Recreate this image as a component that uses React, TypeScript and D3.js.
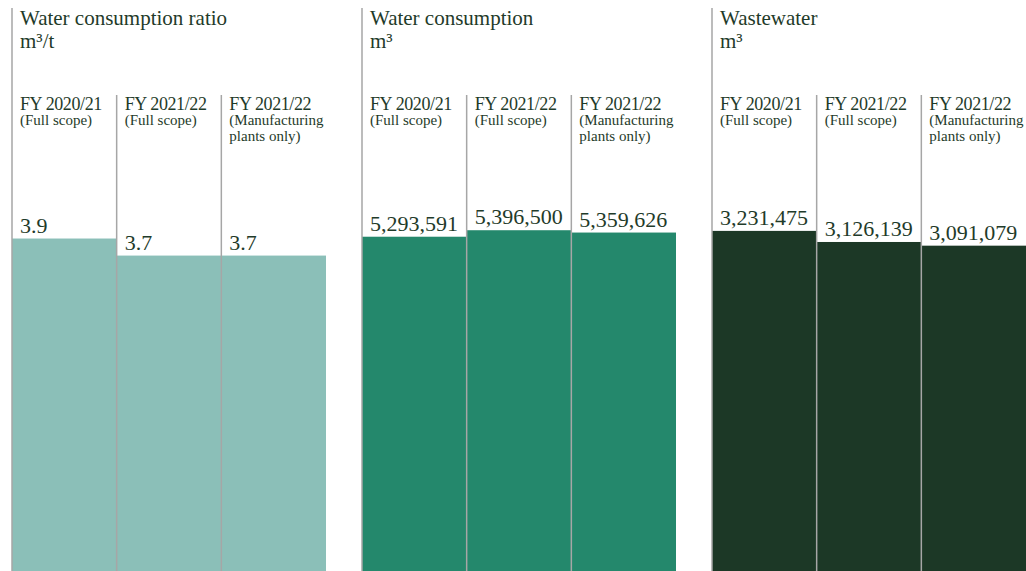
import React from "react";
import * as d3 from "d3";

const categories = ["FY 2020/21", "FY 2021/22", "FY 2021/22"];
const categoryNotes = [["(Full scope)"], ["(Full scope)"], ["(Manufacturing", "plants only)"]];

const panelTitles = ["Water consumption ratio", "Water consumption", "Wastewater"];
const panelUnits = ["m³/t", "m³", "m³"];

const ratioValues = [3.9, 3.7, 3.7];
const consumptionValues = [5293591, 5396500, 5359626];
const wastewaterValues = [3231475, 3126139, 3091079];

const panelValues = [ratioValues, consumptionValues, wastewaterValues];
const panelDomainMax = [4, 5400000, 3240000];
const panelColors = ["#8bbfb8", "#24886c", "#1c3826"];
const panelFormats = [d3.format(".1f"), d3.format(","), d3.format(",")];

const W = 1026;
const H = 571;
const TEXT = "#1f3b2a";
const LINE = "#a6a6a6";
const FONT = "'Liberation Serif', 'Times New Roman', serif";

export default function App() {
  const panelX = d3.scaleLinear().domain([0, 1]).range([12, 362]);
  const panelW = 314;
  return (
    <svg
      width={W}
      height={H}
      style={{ position: "absolute", left: 0, top: 0, display: "block", background: "#fff" }}
      fontFamily={FONT}
    >
      {panelValues.map((vals, p) => {
        const x0 = panelX(p);
        const x = d3.scaleBand<number>().domain([0, 1, 2]).range([x0, x0 + panelW]).padding(0);
        const y = d3.scaleLinear().domain([0, panelDomainMax[p]]).range([H, 230]);
        return (
          <g key={p}>
            {vals.map((v, i) => (
              <rect
                key={"b" + i}
                x={x(i)}
                y={y(v)}
                width={x.bandwidth()}
                height={H - y(v)}
                fill={panelColors[p]}
              />
            ))}
            <line x1={x0} x2={x0} y1={8} y2={H} stroke={LINE} strokeWidth={1.5} />
            {[1, 2].map((i) => (
              <line key={"d" + i} x1={x(i)} x2={x(i)} y1={95} y2={H} stroke={LINE} strokeWidth={1.5} />
            ))}
            <text x={x0 + 8} y={25} fontSize={21} fill={TEXT}>
              {panelTitles[p]}
            </text>
            <text x={x0 + 8} y={48} fontSize={21} fill={TEXT}>
              {panelUnits[p]}
            </text>
            {categories.map((c, i) => (
              <g key={"c" + i}>
                <text x={(x(i) as number) + 8} y={110} fontSize={18} letterSpacing={-0.4} fill={TEXT}>
                  {c}
                </text>
                {categoryNotes[i].map((n, j) => (
                  <text key={j} x={(x(i) as number) + 8} y={125 + j * 16} fontSize={15} fill={TEXT}>
                    {n}
                  </text>
                ))}
              </g>
            ))}
            {vals.map((v, i) => (
              <text key={"v" + i} x={(x(i) as number) + 8} y={y(v) - 6} fontSize={22} fill={TEXT}>
                {panelFormats[p](v)}
              </text>
            ))}
          </g>
        );
      })}
    </svg>
  );
}
